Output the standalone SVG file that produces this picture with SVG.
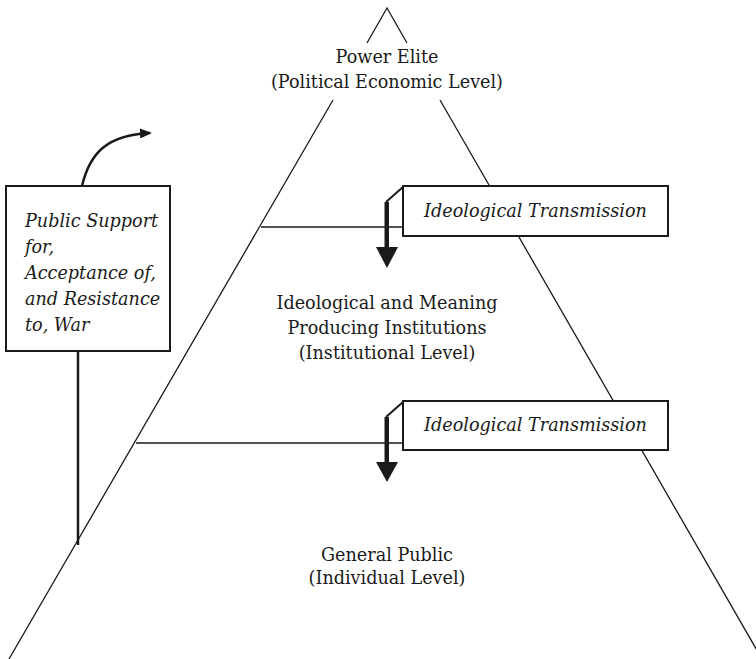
<svg xmlns="http://www.w3.org/2000/svg" width="756" height="659" viewBox="0 0 756 659">
<style>
.t{font-family:"DejaVu Serif","Liberation Serif",serif;font-size:17.6px;fill:#1a1a1a}
.c{text-anchor:middle}
.i{font-style:italic}
.thin{stroke:#1a1a1a;stroke-width:1.3;fill:none}
.box{fill:#fff;stroke:#1a1a1a;stroke-width:2}
.hl{stroke:#1a1a1a;stroke-width:1.6;fill:none}
</style>
<defs>
<marker id="ah" markerWidth="12" markerHeight="10" refX="10" refY="5" orient="auto" markerUnits="userSpaceOnUse">
<path d="M0,0 L12,5 L0,10 Z" fill="#1a1a1a"/>
</marker>
</defs>
<rect width="756" height="659" fill="#fff"/>
<g id="connectors">
<path class="thin" d="M367,43 L387,8 L407,43"/>
<path class="thin" d="M333,100 L9,659"/>
<path class="thin" d="M440,100 L762,659"/>
<path class="hl" d="M261,227 L403,227"/>
<path class="hl" d="M136,443 L403,443"/>
<path d="M78,351 L78,545" stroke="#1a1a1a" stroke-width="2.5" fill="none"/>
<path d="M82,186 C90,152 108,135 150,133" stroke="#1a1a1a" stroke-width="2.5" fill="none" marker-end="url(#ah)"/>
<path d="M403,187 L386,202" stroke="#1a1a1a" stroke-width="2" fill="none"/>
<rect x="384.5" y="202" width="4.5" height="46" fill="#1a1a1a"/>
<polygon points="376,247 398,247 387,268" fill="#1a1a1a"/>
<path d="M403,402 L386,417" stroke="#1a1a1a" stroke-width="2" fill="none"/>
<rect x="384.5" y="417" width="4.5" height="46" fill="#1a1a1a"/>
<polygon points="376,462 398,462 387,482" fill="#1a1a1a"/>
</g>
<g id="power-elite">
<text class="t c" x="387" y="63">Power Elite</text>
<text class="t c" x="387" y="88">(Political Economic Level)</text>
</g>
<g id="institutions">
<text class="t c" x="387" y="309">Ideological and Meaning</text>
<text class="t c" x="387" y="334">Producing Institutions</text>
<text class="t c" x="387" y="359">(Institutional Level)</text>
</g>
<g id="general-public">
<text class="t c" x="387" y="561">General Public</text>
<text class="t c" x="387" y="584">(Individual Level)</text>
</g>
<g id="transmission-1">
<rect class="box" x="403" y="186" width="265" height="50"/>
<text class="t c i" x="535.5" y="217">Ideological Transmission</text>
</g>
<g id="transmission-2">
<rect class="box" x="403" y="401" width="265" height="49"/>
<text class="t c i" x="535.5" y="431">Ideological Transmission</text>
</g>
<g id="public-support">
<rect class="box" x="6" y="186" width="164" height="165"/>
<text class="t i" x="25" y="227">Public Support</text>
<text class="t i" x="25" y="253">for,</text>
<text class="t i" x="25" y="279">Acceptance of,</text>
<text class="t i" x="25" y="305">and Resistance</text>
<text class="t i" x="25" y="331">to, War</text>
</g>
</svg>
